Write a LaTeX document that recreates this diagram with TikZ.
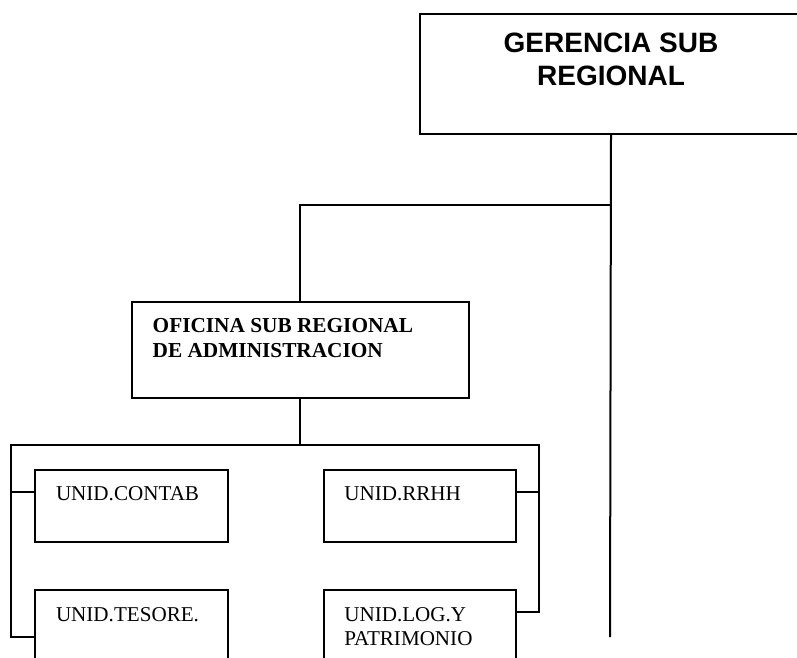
\documentclass[tikz,border=0pt]{standalone}
\usepackage{fontspec}
\setmainfont{Liberation Serif}
\newfontfamily\arialfont{Liberation Sans}
\usetikzlibrary{positioning,calc}

\begin{document}
\begin{tikzpicture}[x=1pt,y=-1pt,line width=2pt,
  box/.style={draw,inner sep=0pt,anchor=north west},
  lbl/.style={inner sep=0pt,align=left,font=\fontsize{21.1}{24}\selectfont}]
  \useasboundingbox (0,0) rectangle (797,657);
  % boxes
  \node[box,minimum width=382pt,minimum height=119.7pt] (ger) at (419,13) {};
  \node[box,minimum width=337pt,minimum height=95.7pt] (ofi) at (130.7,301) {};
  \node[box,minimum width=193pt,minimum height=71.7pt] (ctb) at (34.3,469) {};
  \node[box,minimum width=192.3pt,minimum height=71.7pt] (rrh) at (322.7,469) {};
  \node[box,minimum width=193pt,minimum height=72pt] (tes) at (34.3,589.3) {};
  \node[box,minimum width=192.3pt,minimum height=72pt] (log) at (322.7,589.3) {};
  % texts
  \node[below=19pt of ger.north,inner sep=0pt,align=center,font=\arialfont\bfseries\fontsize{28}{33.3}\selectfont] (gert) {GERENCIA SUB\\REGIONAL};
  \node[lbl,font=\bfseries\fontsize{21.3}{25}\selectfont,below right=16.7pt and 21pt of ofi.north west] (ofit) {OFICINA SUB REGIONAL\\DE ADMINISTRACION};
  \node[lbl,below right=17pt and 20.7pt of ctb.north west] (ctbt) {UNID.CONTAB};
  \node[lbl,below right=17pt and 20.6pt of rrh.north west] (rrht) {UNID.RRHH};
  \node[lbl,below right=17pt and 20.7pt of tes.north west] (test) {UNID.TESORE.};
  \node[lbl,below right=17pt and 20.6pt of log.north west] (logt) {UNID.LOG.Y\\PATRIMONIO};
  % joints
  \coordinate (j1) at (610,205);
  \coordinate (mainend) at (610,637);
  \coordinate (busL) at (11,445);
  \coordinate (busR) at (538.7,445);
  \coordinate (ctbj) at ($(ctb.north west)+(0,23)$);
  \coordinate (tesj) at ($(tes.north west)+(0,47.7)$);
  \coordinate (rrhj) at ($(rrh.north east)+(0,23)$);
  \coordinate (logj) at ($(log.north east)+(0,23)$);
  % connectors
  \draw (ger.south) -- (mainend);
  \draw (j1) -| (ofi.north);
  \draw (ofi.south) -- (ofi.south |- busL);
  \draw (logj) -| (busR) -- (busL) |- (tesj);
  \draw (ctbj) -- (ctbj -| busL);
  \draw (rrhj) -- (rrhj -| busR);
\end{tikzpicture}
\end{document}
